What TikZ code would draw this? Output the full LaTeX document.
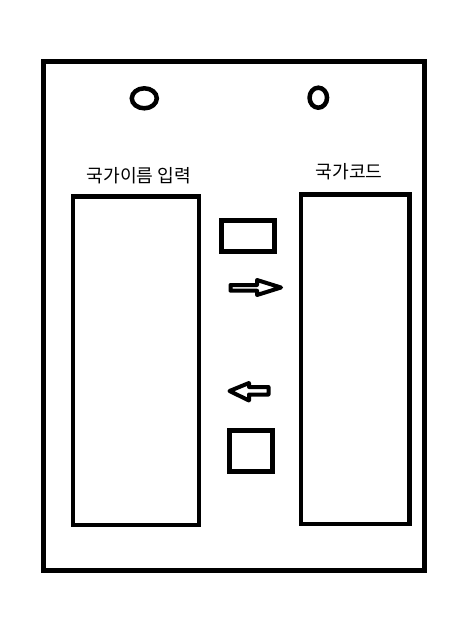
\documentclass[tikz,border=0pt]{standalone}
\usepackage{fontspec}
\setmainfont{Noto Sans CJK KR}
\usepackage{tikz}
\usetikzlibrary{positioning,shapes.geometric}

\begin{document}
\begin{tikzpicture}[x=1pt,y=-1pt,
    box/.style={draw,line width=4.5pt,inner sep=0pt},
    btn/.style={draw,line width=5pt,inner sep=0pt},
    hole/.style={ellipse,draw,line width=4.5pt,inner sep=0pt},
    lbl/.style={inner sep=0pt,font=\fontsize{18.2}{20}\selectfont},
    blk/.style={draw,line width=4pt,line join=round}]
    \useasboundingbox (0,0) rectangle (474,629);
    \draw[line width=5pt] (43.5,61.5) rectangle (424,570);
    \node[hole,minimum width=25pt,minimum height=20pt] (h1) at (144.3,98.3) {};
    \node[hole,minimum width=17.5pt,minimum height=20pt] (h2) at (318.3,97.7) {};
    \node[box,minimum width=126pt,minimum height=328.5pt] (nm) at (136,360.75) {};
    \node[box,minimum width=108.5pt,minimum height=329.5pt] (cd) at (355.25,359.25) {};
    \node[lbl] (nml) at (139,176) {국가이름 입력};
    \node[lbl] (cdl) at (349,172) {국가코드};
    \node[btn,minimum width=52.8pt,minimum height=30.2pt] (b1) at (247.9,235.9) {};
    \node[btn,minimum width=43.2pt,minimum height=40.5pt] (b2) at (251.1,450.75) {};
    \draw[blk] (230.5,285) -- (257,285) -- (257,280) -- (281,287.5) -- (257,295) -- (257,290.7) -- (230.5,290.7) -- cycle;
    \draw[blk] (268.5,387) -- (249,387) -- (249,383) -- (229.5,391) -- (249,400.5) -- (249,394.5) -- (268.5,394.5) -- cycle;
\end{tikzpicture}
\end{document}
